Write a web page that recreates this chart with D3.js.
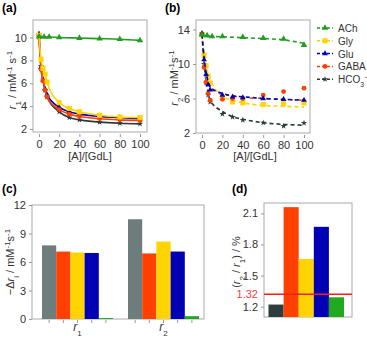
<!DOCTYPE html>
<html>
<head>
<meta charset="utf-8">
<script src="https://cdn.jsdelivr.net/npm/d3@7"></script>
<style>
  body { margin: 0; background: #fff; }
  svg { font-family: "Liberation Sans", Arial, sans-serif; }
  .axis text { font-size: 11px; fill: #333; }
  .axis path, .axis line { stroke: #999; }
  .frame { fill: none; stroke: #aaa; stroke-width: 1; }
  .plabel { font-size: 12px; font-weight: bold; }
</style>
</head>
<body>
<svg id="chart" width="367" height="340"></svg>
<script>
// ---- data ----
var names = ["ACh", "Gly", "Glu", "GABA", "HCO3"];
var colors = {ACh: "#1f9e1f", Gly: "#ffd400", Glu: "#0000b4", GABA: "#ff4000", HCO3: "#2b3a3a"};

var achX = [0, 5, 10, 20, 40, 60, 80, 100];
var concX = [0, 2, 4, 6, 8, 20, 30, 40, 60, 80, 100];

// panel (a) r1 values
var r1ACh = [10.1, 10.05, 10.05, 10.0, 9.95, 9.9, 9.85, 9.75];
var r1Gly = [10.2, 8.1, 7.3, 6.8, 6.1, 4.3, 3.8, 3.5, 3.2, 3.05, 3.0];
var r1Glu = [10.3, 7.4, 6.3, 5.5, 5.0, 3.9, 3.5, 3.3, 3.1, 3.0, 2.9];
var r1GABA = [10.0, 7.2, 6.2, 5.4, 4.8, 3.7, 3.3, 3.1, 2.9, 2.8, 2.75];
var r1HCO3 = [10.3, 7.5, 6.3, 5.4, 4.8, 3.5, 3.0, 2.8, 2.6, 2.5, 2.45];

// panel (b) r2 values (points)
var r2ACh = [13.4, 13.3, 13.2, 13.2, 13.1, 13.0, 12.9, 12.2];
var r2Gly = [13.4, 11.0, 9.8, 8.6, 7.8, 6.1, 5.6, 5.5, 5.3, 5.4, 5.5];
var r2Glu = [13.5, 10.5, 8.8, 7.6, 7.0, 6.4, 6.2, 6.1, 6.0, 5.9, 5.8];
var r2GABA = [13.5, 9.6, 7.9, 6.6, 5.8, 5.9, 6.0, 6.0, 6.4, 6.8, 7.2];
var r2HCO3 = [13.6, 10.0, 7.8, 6.4, 5.6, 4.2, 3.85, 3.5, 3.2, 2.8, 3.15];

// panel (b) fitted (dashed) curves
var fitACh = [13.3, 13.25, 13.2, 13.15, 13.05, 12.95, 12.8, 12.4];
var fitGly = [13.4, 11.3, 9.8, 8.9, 8.2, 6.3, 5.8, 5.5, 5.2, 5.1, 5.0];
var fitGlu = [13.4, 10.8, 9.0, 8.0, 7.3, 6.6, 6.3, 6.2, 6.0, 5.9, 5.8];
var fitGABA = [13.4, 10.7, 8.9, 7.9, 7.2, 6.5, 6.3, 6.1, 6.0, 5.9, 5.8];
var fitHCO3 = [13.5, 10.2, 8.0, 6.6, 5.8, 4.5, 3.9, 3.6, 3.2, 3.0, 2.9];

// panels (c) and (d): bar order
var barNames = ["HCO3", "GABA", "Gly", "Glu", "ACh"];
var groups = ["r1", "r2"];
var dR1 = [7.75, 7.1, 7.0, 6.95, 0.1];
var dR2 = [10.5, 6.9, 8.15, 7.1, 0.3];
var ratio = [1.22, 2.16, 1.66, 1.97, 1.29];
var ratioRef = 1.32;

var ticksA = [2, 4, 6, 8, 10];
var ticksB = [2, 6, 10, 14];
var ticksC = [0, 3, 6, 9, 12];
var ticksD = [1.2, 1.5, 1.8, 2.1];
var ticksX = [0, 20, 40, 60, 80, 100];

var svg = d3.select("#chart");

var symbols = {
  ACh: d3.symbol().type(d3.symbolTriangle).size(18),
  Gly: d3.symbol().type(d3.symbolSquare).size(26),
  Glu: d3.symbol().type(d3.symbolTriangle).size(14),
  GABA: d3.symbol().type(d3.symbolCircle).size(18),
  HCO3: d3.symbol().type(d3.symbolStar).size(12)
};

function series(xs, ys) {
  return xs.map(function(x, i) { return {x: x, y: ys[i]}; });
}

// y label helper: pieces [text, style] where style = "i" italic, "sub", "sup"
function richLabel(g, x, y, parts) {
  var t = g.append("text")
    .attr("transform", "translate(" + x + "," + y + ") rotate(-90)")
    .attr("text-anchor", "middle")
    .style("font-size", "11px").style("fill", "#333");
  parts.forEach(function(p) {
    var s = t.append("tspan").text(p[0]);
    if (p[1] == "i") s.style("font-style", "italic");
    if (p[1] == "sub") s.attr("baseline-shift", "sub").style("font-size", "8px");
    if (p[1] == "sup") s.attr("baseline-shift", "super").style("font-size", "8px");
  });
  return t;
}

// ---------- panel (a) ----------
var xA = d3.scaleLinear().domain([0, 100]).range([39, 140]);
var yA = d3.scaleLinear().domain([2, 10]).range([129, 37.5]);

svg.append("rect").attr("class", "frame").attr("x", 33).attr("y", 20).attr("width", 114).attr("height", 112);
svg.append("g").attr("class", "axis").attr("transform", "translate(33,0)")
  .call(d3.axisLeft(yA).tickValues(ticksA).tickSize(3)).select(".domain").remove();
svg.append("g").attr("class", "axis").attr("transform", "translate(0,134)")
  .call(d3.axisBottom(xA).tickValues(ticksX).tickSize(3)).select(".domain").remove();

var lineA = d3.line().x(function(d) { return xA(d.x); }).y(function(d) { return yA(d.y); })
  .curve(d3.curveMonotoneX);

var dataA = {
  ACh: series(achX, r1ACh), Gly: series(concX, r1Gly), Glu: series(concX, r1Glu),
  GABA: series(concX, r1GABA), HCO3: series(concX, r1HCO3)
};
["HCO3", "Glu", "GABA", "Gly", "ACh"].forEach(function(n) {
  svg.append("path").datum(dataA[n]).attr("d", lineA)
    .attr("fill", "none").attr("stroke", colors[n]).attr("stroke-width", 1.6);
  svg.append("g").selectAll("path").data(dataA[n]).enter().append("path")
    .attr("d", symbols[n])
    .attr("transform", function(d) { return "translate(" + xA(d.x) + "," + yA(d.y) + ")"; })
    .attr("fill", colors[n]);
});

svg.append("text").attr("class", "plabel").attr("x", 2).attr("y", 12).text("(a)");
richLabel(svg, 16, 80, [["r", "i"], ["1", "sub"], [" / mM"], ["-1", "sup"], [" s"], ["-1", "sup"]]);
svg.append("text").attr("x", 90).attr("y", 160).attr("text-anchor", "middle")
  .style("font-size", "11px").style("fill", "#333").text("[A]/[GdL]");

// ---------- panel (b) ----------
var xB = d3.scaleLinear().domain([0, 100]).range([202, 304]);
var yB = d3.scaleLinear().domain([2, 14]).range([133, 29.5]);

svg.append("rect").attr("class", "frame").attr("x", 196).attr("y", 20).attr("width", 114).attr("height", 113);
svg.append("g").attr("class", "axis").attr("transform", "translate(196,0)")
  .call(d3.axisLeft(yB).tickValues(ticksB).tickSize(3)).select(".domain").remove();
svg.append("g").attr("class", "axis").attr("transform", "translate(0,135)")
  .call(d3.axisBottom(xB).tickValues(ticksX).tickSize(3)).select(".domain").remove();

var lineB = d3.line().x(function(d) { return xB(d.x); }).y(function(d) { return yB(d.y); })
  .curve(d3.curveMonotoneX);

var pointsB = {
  ACh: series(achX, r2ACh), Gly: series(concX, r2Gly), Glu: series(concX, r2Glu),
  GABA: series(concX, r2GABA), HCO3: series(concX, r2HCO3)
};
var fitsB = {
  ACh: series(achX, fitACh), Gly: series(concX, fitGly), Glu: series(concX, fitGlu),
  GABA: series(concX, fitGABA), HCO3: series(concX, fitHCO3)
};
["HCO3", "Gly", "GABA", "Glu", "ACh"].forEach(function(n) {
  svg.append("path").datum(fitsB[n]).attr("d", lineB)
    .attr("fill", "none").attr("stroke", colors[n]).attr("stroke-width", 1.6)
    .attr("stroke-dasharray", n == "GABA" ? "3,5" : "4,3");
  svg.append("g").selectAll("path").data(pointsB[n]).enter().append("path")
    .attr("d", symbols[n])
    .attr("transform", function(d) { return "translate(" + xB(d.x) + "," + yB(d.y) + ")"; })
    .attr("fill", colors[n]);
});

svg.append("text").attr("class", "plabel").attr("x", 165).attr("y", 12).text("(b)");
richLabel(svg, 178, 78, [["r", "i"], ["2", "sub"], [" / mM"], ["-1", "sup"], ["s"], ["-1", "sup"]]);
svg.append("text").attr("x", 255).attr("y", 160).attr("text-anchor", "middle")
  .style("font-size", "11px").style("fill", "#333").text("[A]/[GdL]");

// legend
var legend = svg.append("g");
names.forEach(function(n, i) {
  var ly = 28 + i * 12.8;
  legend.append("line").attr("x1", 317).attr("x2", 333).attr("y1", ly).attr("y2", ly)
    .attr("stroke", colors[n]).attr("stroke-width", 1.5).attr("stroke-dasharray", "3,2");
  legend.append("path").attr("d", symbols[n]).attr("fill", colors[n])
    .attr("transform", "translate(325," + ly + ")");
  var t = legend.append("text").attr("x", 338).attr("y", ly + 4)
    .style("font-size", "10px").style("fill", "#333");
  if (n == "HCO3") {
    t.append("tspan").text("HCO");
    t.append("tspan").attr("baseline-shift", "sub").style("font-size", "7px").text("3");
    t.append("tspan").attr("baseline-shift", "super").style("font-size", "7px").text("\u2212");
  } else {
    t.text(n);
  }
});

// ---------- panel (c) ----------
var barColorsC = {HCO3: "#6d7d7d", GABA: "#ff4000", Gly: "#ffd400", Glu: "#0000b4", ACh: "#1faa1f"};
var yC = d3.scaleLinear().domain([0, 12]).range([319, 205]);
var xC = d3.scalePoint().domain(groups).range([77.5, 163.5]);
var xCin = d3.scaleBand().domain(barNames).range([-35.5, 35.5]);

svg.append("rect").attr("class", "frame").attr("x", 32).attr("y", 205).attr("width", 172).attr("height", 114);
svg.append("g").attr("class", "axis").attr("transform", "translate(32,0)")
  .call(d3.axisLeft(yC).tickValues(ticksC).tickSize(3)).select(".domain").remove();

var barData = [];
groups.forEach(function(gname, gi) {
  var vals = gi == 0 ? dR1 : dR2;
  barNames.forEach(function(n, i) { barData.push({group: gname, name: n, value: vals[i]}); });
});
svg.append("g").selectAll("rect").data(barData).enter().append("rect")
  .attr("x", function(d) { return xC(d.group) + xCin(d.name); })
  .attr("y", function(d) { return yC(d.value); })
  .attr("width", xCin.bandwidth())
  .attr("height", function(d) { return yC(0) - yC(d.value); })
  .attr("fill", function(d) { return barColorsC[d.name]; });
// small ticks under each bar
svg.append("g").selectAll("line").data(barData).enter().append("line")
  .attr("x1", function(d) { return xC(d.group) + xCin(d.name) + xCin.bandwidth() / 2; })
  .attr("x2", function(d) { return xC(d.group) + xCin(d.name) + xCin.bandwidth() / 2; })
  .attr("y1", 320).attr("y2", 323).attr("stroke", "#999");

groups.forEach(function(gname, gi) {
  var t = svg.append("text").attr("x", xC(gname)).attr("y", 331).attr("text-anchor", "middle")
    .style("font-size", "12px").style("fill", "#333");
  t.append("tspan").style("font-style", "italic").text("r");
  t.append("tspan").attr("baseline-shift", "sub").style("font-size", "8px").text(gi + 1);
});

svg.append("text").attr("class", "plabel").attr("x", 2).attr("y", 193).text("(c)");
richLabel(svg, 14, 262, [["\u2212\u0394"], ["r", "i"], ["i", "sub"], [" / mM"], ["-1", "sup"], ["s"], ["-1", "sup"]]);

// ---------- panel (d) ----------
var barColorsD = {HCO3: "#2d3c3c", GABA: "#ff4000", Gly: "#ffd400", Glu: "#0000b4", ACh: "#1faa1f"};
var yD = d3.scaleLinear().domain([1.1, 2.2]).range([317, 203]);
var xD = d3.scaleBand().domain(barNames).range([268.5, 344]);

svg.append("rect").attr("class", "frame").attr("x", 264).attr("y", 203).attr("width", 88).attr("height", 114);
svg.append("g").attr("class", "axis").attr("transform", "translate(264,0)")
  .call(d3.axisLeft(yD).tickValues(ticksD).tickSize(3).tickFormat(d3.format(".1f")))
  .select(".domain").remove();

svg.append("g").selectAll("rect").data(ratio).enter().append("rect")
  .attr("x", function(d, i) { return xD(barNames[i]); })
  .attr("y", function(d) { return yD(d); })
  .attr("width", xD.bandwidth())
  .attr("height", function(d) { return yD(1.1) - yD(d); })
  .attr("fill", function(d, i) { return barColorsD[barNames[i]]; });

svg.append("line").attr("x1", 264).attr("x2", 352).attr("y1", yD(ratioRef)).attr("y2", yD(ratioRef))
  .attr("stroke", "#ff1a1a").attr("stroke-width", 1.5);
svg.append("text").attr("x", 258).attr("y", yD(ratioRef) + 4).attr("text-anchor", "end")
  .style("font-size", "11px").style("fill", "#ff3b3b").text("1.32");

svg.append("text").attr("class", "plabel").attr("x", 232).attr("y", 193).text("(d)");
richLabel(svg, 240, 262, [["("], ["r", "i"], ["2", "sub"], [" / "], ["r", "i"], ["1", "sub"], [") / %"]]);
</script>
</body>
</html>
